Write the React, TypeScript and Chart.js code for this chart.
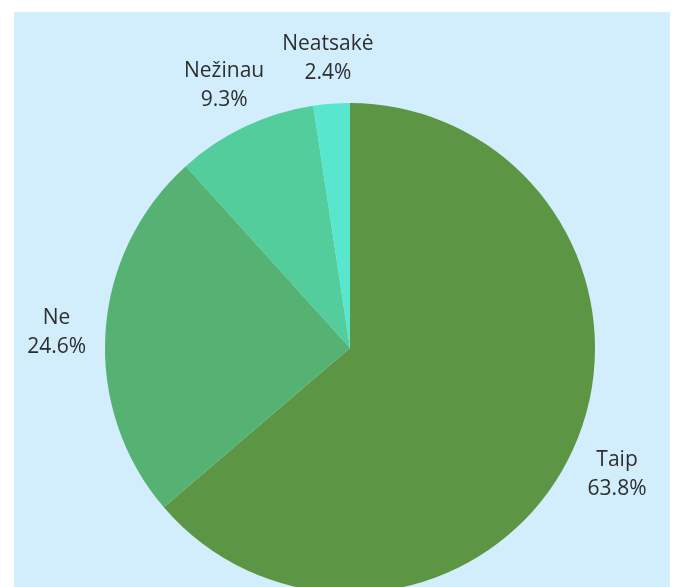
import React, { useEffect, useRef } from "react";
import { Chart, registerables } from "chart.js";

Chart.register(...registerables);

const categories = ["Taip", "Ne", "Nežinau", "Neatsakė"];
const values = [63.8, 24.6, 9.3, 2.4];
const percentLabels = ["63.8%", "24.6%", "9.3%", "2.4%"];
const colors = ["#5c9644", "#56b272", "#52cd9b", "#59e6cf"];

const bgPlugin = {
  id: "bgPanel",
  beforeDraw(chart: any) {
    const ctx = chart.ctx;
    ctx.save();
    ctx.fillStyle = "#d2eefd";
    ctx.fillRect(14, 12, 656, chart.height);
    ctx.restore();
  },
};

const labelPlugin = {
  id: "outLabels",
  afterDraw(chart: any) {
    const ctx = chart.ctx;
    const meta = chart.getDatasetMeta(0);
    ctx.save();
    ctx.fillStyle = "#2e2e2e";
    ctx.font = "21px 'Open Sans', sans-serif";
    ctx.textAlign = "center";
    ctx.textBaseline = "middle";
    meta.data.forEach((arc: any, i: number) => {
      const p = arc.getProps(["x", "y", "startAngle", "endAngle", "outerRadius"], true);
      const mid = (p.startAngle + p.endAngle) / 2;
      const r = p.outerRadius + 49;
      const cx = p.x + Math.cos(mid) * r;
      const cy = p.y + Math.sin(mid) * r + 3;
      ctx.fillText(categories[i], cx, cy - 14);
      ctx.fillText(percentLabels[i], cx, cy + 15);
    });
    ctx.restore();
  },
};

export default function App() {
  const ref = useRef<HTMLCanvasElement>(null);
  useEffect(() => {
    if (!ref.current) return;
    const chart = new Chart(ref.current, {
      type: "pie",
      data: {
        labels: categories,
        datasets: [
          {
            data: values,
            backgroundColor: colors,
            borderWidth: 0,
          },
        ],
      },
      options: {
        responsive: false,
        animation: false,
        layout: { padding: { left: 105, right: 79, top: 103, bottom: 107 } },
        plugins: { legend: { display: false }, tooltip: { enabled: false } },
      },
      plugins: [bgPlugin, labelPlugin],
    });
    return () => chart.destroy();
  }, []);
  return (
    <div style={{ position: "absolute", left: 0, top: 0, width: 674, height: 587, overflow: "hidden" }}>
      <canvas ref={ref} width={674} height={700} style={{ width: 674, height: 700, display: "block" }} />
    </div>
  );
}
